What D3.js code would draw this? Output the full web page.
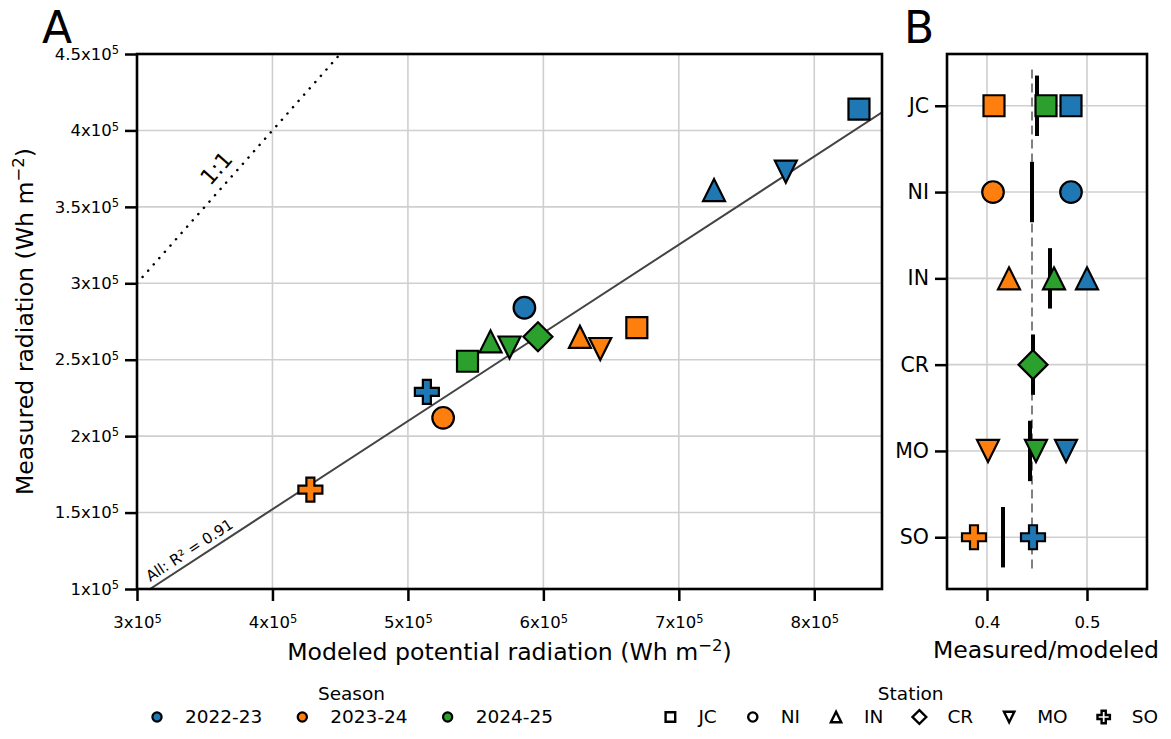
<!DOCTYPE html>
<html>
<head>
<meta charset="utf-8">
<script src="https://cdn.jsdelivr.net/npm/d3@7"></script>
<style>
  body { margin: 0; background: #fff; }
  text { font-family: "DejaVu Sans", sans-serif; }
</style>
</head>
<body>
<div id="chart"></div>
<script>

// ---- data ----
const seasons = ["2022-23", "2023-24", "2024-25"];
const seasonColors = ["#1f77b4", "#ff7f0e", "#2ca02c"];
const stations = ["JC", "NI", "IN", "CR", "MO", "SO"];
const stationShapes = ["square", "circle", "triangle", "diamond", "down", "plus"];

// panel A: modeled vs measured totals
const ptSeason  = ["2022-23", "2022-23", "2022-23", "2022-23", "2022-23",
                   "2023-24", "2023-24", "2023-24", "2023-24", "2023-24",
                   "2024-25", "2024-25", "2024-25", "2024-25"];
const ptStation = ["JC", "IN", "MO", "NI", "SO",
                   "SO", "NI", "JC", "IN", "MO",
                   "JC", "IN", "MO", "CR"];
const modeled   = [8.33e5, 7.26e5, 7.79e5, 5.86e5, 5.14e5,
                   4.28e5, 5.26e5, 6.69e5, 6.27e5, 6.42e5,
                   5.44e5, 5.61e5, 5.75e5, 5.96e5];
const measured  = [4.14e5, 3.61e5, 3.73e5, 2.84e5, 2.29e5,
                   1.65e5, 2.12e5, 2.71e5, 2.65e5, 2.57e5,
                   2.49e5, 2.62e5, 2.58e5, 2.65e5];
const fitSlope = 0.577;
const fitIntercept = -78640;
const fitLabel = "All: R² = 0.91";

// panel B: measured/modeled ratio
const ratioStation = ["JC", "JC", "JC", "NI", "NI", "IN", "IN", "IN", "CR",
                      "MO", "MO", "MO", "SO", "SO"];
const ratioSeason  = ["2023-24", "2024-25", "2022-23", "2023-24", "2022-23",
                      "2023-24", "2024-25", "2022-23", "2024-25",
                      "2023-24", "2024-25", "2022-23", "2023-24", "2022-23"];
const ratio        = [0.407, 0.459, 0.484, 0.406, 0.484,
                      0.422, 0.467, 0.500, 0.446,
                      0.401, 0.449, 0.479, 0.387, 0.446];
const stationMean  = [0.450, 0.445, 0.463, 0.446, 0.443, 0.416];
const overallMean  = 0.445;

const xTicksA = [3e5, 4e5, 5e5, 6e5, 7e5, 8e5];
const yTicksA = [1e5, 1.5e5, 2e5, 2.5e5, 3e5, 3.5e5, 4e5, 4.5e5];
const xTicksB = [0.4, 0.5];

// ---- helpers ----
function markerPath(shape, s) {
    const a = s / 3;
    switch (shape) {
        case "square": return `M${-s},${-s}H${s}V${s}H${-s}Z`;
        case "circle": return `M${s},0A${s},${s} 0 1,1 ${-s},0A${s},${s} 0 1,1 ${s},0Z`;
        case "triangle": return `M0,${-s}L${s},${s}L${-s},${s}Z`;
        case "down": return `M0,${s}L${s},${-s}L${-s},${-s}Z`;
        case "diamond": return `M0,${-s * 1.38}L${s * 1.38},0L0,${s * 1.38}L${-s * 1.38},0Z`;
        case "plus": return `M${-a},${-s}H${a}V${-a}H${s}V${a}H${a}V${s}H${-a}V${a}H${-s}V${-a}H${-a}Z`;
    }
}
const markerSize = { square: 10.5, circle: 10.8, triangle: 11, down: 11, diamond: 10.5, plus: 12 };
const shapeOf = st => stationShapes[stations.indexOf(st)];
const colorOf = se => seasonColors[seasons.indexOf(se)];

function sciLabel(sel) {
    sel.each(function (d) {
        const t = d3.select(this);
        const m = d / 1e5;
        t.text(null);
        t.append("tspan").text(m + "x10");
        t.append("tspan").attr("font-size", 11.5).attr("dy", -5.5).text("5");
    });
}

const W = 1171, H = 739;
const svg = d3.select("#chart").append("svg")
    .attr("width", W).attr("height", H);
svg.append("rect").attr("width", W).attr("height", H).attr("fill", "#fff");

const gridColor = "#cfcfcf";
const tickFont = 16.5;
const labelFont = 23.6;

// ================= Panel A =================
const xA = d3.scaleLinear().domain([3e5, 8.5e5]).range([137, 882]);
const yA = d3.scaleLinear().domain([1e5, 4.5e5]).range([589, 54]);

const gA = svg.append("g");
gA.append("clipPath").attr("id", "clipA").append("rect")
    .attr("x", 137).attr("y", 54).attr("width", 882 - 137).attr("height", 589 - 54);

// grid
gA.selectAll(".gx").data(xTicksA.slice(1)).enter().append("line")
    .attr("x1", d => xA(d)).attr("x2", d => xA(d)).attr("y1", 54).attr("y2", 589)
    .attr("stroke", gridColor).attr("stroke-width", 1.6);
gA.selectAll(".gy").data(yTicksA.slice(1, -1)).enter().append("line")
    .attr("y1", d => yA(d)).attr("y2", d => yA(d)).attr("x1", 137).attr("x2", 882)
    .attr("stroke", gridColor).attr("stroke-width", 1.6);

// 1:1 line
gA.append("line").attr("clip-path", "url(#clipA)")
    .attr("x1", xA(3e5)).attr("y1", yA(3e5)).attr("x2", xA(4.5e5)).attr("y2", yA(4.5e5))
    .attr("stroke", "#000").attr("stroke-width", 2.5).attr("stroke-dasharray", "0.1 8.3")
    .attr("stroke-linecap", "round");
const oneAng = Math.atan2(yA(4.5e5) - yA(3e5), xA(4.5e5) - xA(3e5)) * 180 / Math.PI;
gA.append("text")
    .attr("transform", `translate(${xA(3.62e5) + 1},${yA(3.72e5)}) rotate(${oneAng})`)
    .attr("text-anchor", "middle").attr("font-size", 22).text("1:1");

// regression line
const fitX0 = (yA.domain()[0] - fitIntercept) / fitSlope;
const fitX1 = xA.domain()[1];
gA.append("line").attr("clip-path", "url(#clipA)")
    .attr("x1", xA(fitX0)).attr("y1", yA(fitSlope * fitX0 + fitIntercept))
    .attr("x2", xA(fitX1)).attr("y2", yA(fitSlope * fitX1 + fitIntercept))
    .attr("stroke", "#444").attr("stroke-width", 2);
const fitAng = Math.atan2(yA(fitSlope * fitX1 + fitIntercept) - yA(fitSlope * fitX0 + fitIntercept),
    xA(fitX1) - xA(fitX0)) * 180 / Math.PI;
const lblX = 3.12e5;
gA.append("text")
    .attr("transform", `translate(${xA(lblX) - 3},${yA(fitSlope * lblX + fitIntercept) - 5}) rotate(${fitAng})`)
    .attr("font-size", 15).text(fitLabel);

// points
const ptsA = d3.range(modeled.length);
gA.selectAll(".ptA").data(ptsA).enter().append("path")
    .attr("transform", i => `translate(${xA(modeled[i])},${yA(measured[i])})`)
    .attr("d", i => markerPath(shapeOf(ptStation[i]), markerSize[shapeOf(ptStation[i])]))
    .attr("fill", i => colorOf(ptSeason[i]))
    .attr("stroke", "#000").attr("stroke-width", 2.2).attr("stroke-linejoin", "miter");

// axes
const axXA = gA.append("g").attr("transform", "translate(0,589)")
    .call(d3.axisBottom(xA).tickValues(xTicksA).tickSize(12).tickPadding(6));
axXA.select(".domain").remove();
axXA.selectAll("line").attr("stroke-width", 2.5);
axXA.selectAll("text").attr("font-size", tickFont).attr("fill", "#000")
    .attr("y", 39).attr("dy", 0).call(sciLabel);

const axYA = gA.append("g").attr("transform", "translate(137,0)")
    .call(d3.axisLeft(yA).tickValues(yTicksA).tickSize(12).tickPadding(6));
axYA.select(".domain").remove();
axYA.selectAll("line").attr("stroke-width", 2.5);
axYA.selectAll("text").attr("font-size", tickFont).attr("fill", "#000").call(sciLabel);

gA.append("rect").attr("x", 137).attr("y", 54).attr("width", 882 - 137).attr("height", 589 - 54)
    .attr("fill", "none").attr("stroke", "#000").attr("stroke-width", 2.6);

// axis titles
const xtA = gA.append("text").attr("x", 509.5).attr("y", 660).attr("text-anchor", "middle")
    .attr("font-size", labelFont);
xtA.append("tspan").text("Modeled potential radiation (Wh m");
xtA.append("tspan").attr("font-size", 16.5).attr("dy", -9).text("−2");
xtA.append("tspan").attr("dy", 9).text(")");

const ytA = gA.append("text").attr("transform", "translate(33,321.5) rotate(-90)")
    .attr("text-anchor", "middle").attr("font-size", labelFont);
ytA.append("tspan").text("Measured radiation (Wh m");
ytA.append("tspan").attr("font-size", 16.5).attr("dy", -9).text("−2");
ytA.append("tspan").attr("dy", 9).text(")");

svg.append("text").attr("x", 42).attr("y", 43).attr("font-size", 44).text("A");

// ================= Panel B =================
const xB = d3.scaleLinear().domain([0.36, 0.56]).range([947, 1147]);
const yB = d3.scaleLinear().domain([-0.6, 5.6]).range([54, 589]);
const gB = svg.append("g");

gB.selectAll(".gbx").data(xTicksB).enter().append("line")
    .attr("x1", d => xB(d)).attr("x2", d => xB(d)).attr("y1", 54).attr("y2", 589)
    .attr("stroke", gridColor).attr("stroke-width", 1.6);
gB.selectAll(".gby").data(stations).enter().append("line")
    .attr("y1", (d, i) => yB(i)).attr("y2", (d, i) => yB(i)).attr("x1", 947).attr("x2", 1147)
    .attr("stroke", gridColor).attr("stroke-width", 1.6);

// overall mean dashed
gB.append("line")
    .attr("x1", xB(overallMean)).attr("x2", xB(overallMean))
    .attr("y1", yB(-0.42)).attr("y2", yB(5.4))
    .attr("stroke", "#808080").attr("stroke-width", 2).attr("stroke-dasharray", "9 5");

// station means
gB.selectAll(".mean").data(stationMean).enter().append("line")
    .attr("x1", d => xB(d)).attr("x2", d => xB(d))
    .attr("y1", (d, i) => yB(i - 0.35)).attr("y2", (d, i) => yB(i + 0.35))
    .attr("stroke", "#000").attr("stroke-width", 4);

gB.selectAll(".ptB").data(d3.range(ratio.length)).enter().append("path")
    .attr("transform", i => `translate(${xB(ratio[i])},${yB(stations.indexOf(ratioStation[i]))})`)
    .attr("d", i => markerPath(shapeOf(ratioStation[i]), markerSize[shapeOf(ratioStation[i])]))
    .attr("fill", i => colorOf(ratioSeason[i]))
    .attr("stroke", "#000").attr("stroke-width", 2.2);

const axXB = gB.append("g").attr("transform", "translate(0,589)")
    .call(d3.axisBottom(xB).tickValues(xTicksB).tickSize(12).tickFormat(d3.format(".1f")));
axXB.select(".domain").remove();
axXB.selectAll("line").attr("stroke-width", 2.5);
axXB.selectAll("text").attr("font-size", tickFont).attr("fill", "#000").attr("y", 39).attr("dy", 0);

const axYB = gB.append("g").attr("transform", "translate(947,0)")
    .call(d3.axisLeft(yB).tickValues(d3.range(stations.length)).tickSize(12).tickPadding(6)
        .tickFormat(i => stations[i]));
axYB.select(".domain").remove();
axYB.selectAll("line").attr("stroke-width", 2.5);
axYB.selectAll("text").attr("font-size", 20.5).attr("fill", "#000");

gB.append("rect").attr("x", 947).attr("y", 54).attr("width", 200).attr("height", 589 - 54)
    .attr("fill", "none").attr("stroke", "#000").attr("stroke-width", 2.6);

gB.append("text").attr("x", 1046).attr("y", 658).attr("text-anchor", "middle")
    .attr("font-size", labelFont).text("Measured/modeled");

svg.append("text").attr("x", 904).attr("y", 43).attr("font-size", 44).text("B");

// ================= Legends =================
const legFont = 18.5;
const legTitleY = 700, legItemY = 723, legMarkY = 717;

// Season legend
const gS = svg.append("g");
let sx = 157;
const sEnd = [];
seasons.forEach((se, i) => {
    gS.append("path").attr("transform", `translate(${sx},${legMarkY})`)
        .attr("d", markerPath("circle", 4.6)).attr("fill", seasonColors[i])
        .attr("stroke", "#000").attr("stroke-width", 2.2);
    const t = gS.append("text").attr("x", sx + 28).attr("y", legItemY).attr("font-size", legFont).text(se);
    const w = t.node().getComputedTextLength();
    sEnd.push(sx + 28 + w);
    sx = sx + 28 + w + 40;
});
gS.append("text").attr("x", (157 - 7 + sEnd[sEnd.length - 1]) / 2).attr("y", legTitleY)
    .attr("text-anchor", "middle").attr("font-size", legFont).text("Season");

// Station legend (right-aligned)
const gT = svg.append("g");
const tmp = stations.map(st => {
    const t = gT.append("text").attr("font-size", legFont).text(st);
    const w = t.node().getComputedTextLength();
    t.remove();
    return w;
});
const stGap = 36;
const total = d3.sum(tmp) + stations.length * 28 + (stations.length - 1) * stGap;
let tx = 1158 - total;
const tStart = tx - 7;
stations.forEach((st, i) => {
    const shp = stationShapes[i];
    const s = { square: 4.8, circle: 4.6, triangle: 5.2, down: 5.2, diamond: 5.0, plus: 6.2 }[shp];
    gT.append("path").attr("transform", `translate(${tx},${legMarkY})`)
        .attr("d", markerPath(shp, s)).attr("fill", "#fff")
        .attr("stroke", "#000").attr("stroke-width", 2.4);
    gT.append("text").attr("x", tx + 28).attr("y", legItemY).attr("font-size", legFont).text(st);
    tx = tx + 28 + tmp[i] + stGap;
});
gT.append("text").attr("x", (tStart + 1158) / 2).attr("y", legTitleY)
    .attr("text-anchor", "middle").attr("font-size", legFont).text("Station");

</script>
</body>
</html>
